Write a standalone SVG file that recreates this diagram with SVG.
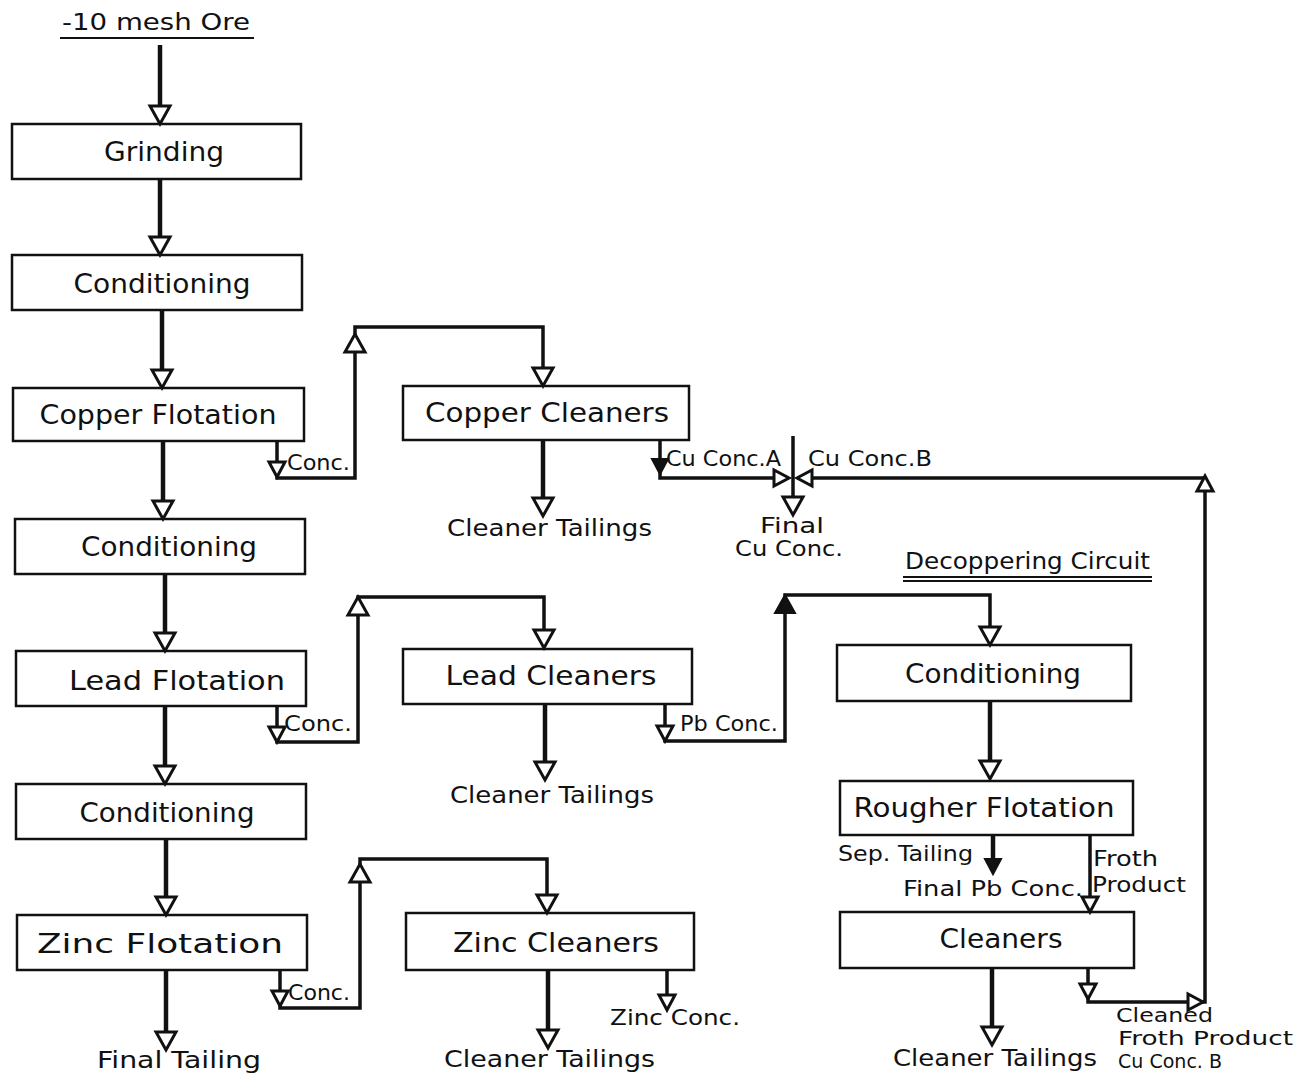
<svg xmlns="http://www.w3.org/2000/svg" xmlns:xlink="http://www.w3.org/1999/xlink" width="1296" height="1075" viewBox="0 0 1296 1075">
<style>
.box{fill:#fff;stroke:#111;stroke-width:2.5}
.lbl{font-family:"DejaVu Sans","Liberation Sans",Arial,sans-serif;font-size:27px;fill:#111;text-anchor:middle}
.sm{font-family:"DejaVu Sans","Liberation Sans",Arial,sans-serif;font-size:21px;fill:#111}
.xs{font-family:"DejaVu Sans","Liberation Sans",Arial,sans-serif;font-size:19px;fill:#111}
.md{font-family:"DejaVu Sans","Liberation Sans",Arial,sans-serif;font-size:23px;fill:#111}
.ln{fill:none;stroke:#111;stroke-width:4.5;stroke-linejoin:miter}
.thin{fill:none;stroke:#111;stroke-width:3.5}
.ah{fill:#fff;stroke:#111;stroke-width:3;stroke-linejoin:miter}
.ahs{fill:#111;stroke:#111;stroke-width:2}
</style>
<defs>
<path id="a" d="M-10,-18 L10,-18 L0,0 Z"/>
<path id="s" d="M-8,-15 L8,-15 L0,0 Z"/>
</defs>
<rect width="1296" height="1075" fill="#fff"/>

<g id="title">
<text class="md" x="62" y="30" textLength="188" lengthAdjust="spacingAndGlyphs">-10 mesh Ore</text>
<line x1="60" y1="38" x2="254" y2="38" stroke="#111" stroke-width="2"/>
</g>

<g id="grinding"><rect class="box" x="12" y="124" width="289" height="55"/><text class="lbl" x="164" y="161" textLength="120" lengthAdjust="spacingAndGlyphs">Grinding</text></g>
<g id="conditioning1"><rect class="box" x="12" y="255" width="290" height="55"/><text class="lbl" x="162" y="293" textLength="177" lengthAdjust="spacingAndGlyphs">Conditioning</text></g>
<g id="copper-flotation"><rect class="box" x="13" y="388" width="291" height="53"/><text class="lbl" x="158" y="424" textLength="237" lengthAdjust="spacingAndGlyphs">Copper Flotation</text></g>
<g id="conditioning2"><rect class="box" x="15" y="519" width="290" height="55"/><text class="lbl" x="169" y="556" textLength="176" lengthAdjust="spacingAndGlyphs">Conditioning</text></g>
<g id="lead-flotation"><rect class="box" x="16" y="651" width="290" height="55"/><text class="lbl" x="177" y="690" textLength="216" lengthAdjust="spacingAndGlyphs">Lead Flotation</text></g>
<g id="conditioning3"><rect class="box" x="16" y="784" width="290" height="55"/><text class="lbl" x="167" y="822" textLength="175" lengthAdjust="spacingAndGlyphs">Conditioning</text></g>
<g id="zinc-flotation"><rect class="box" x="17" y="915" width="290" height="55"/><text class="lbl" x="160" y="953" textLength="246" lengthAdjust="spacingAndGlyphs">Zinc Flotation</text></g>

<g id="copper-cleaners"><rect class="box" x="403" y="386" width="286" height="54"/><text class="lbl" x="547" y="422" textLength="244" lengthAdjust="spacingAndGlyphs">Copper Cleaners</text></g>
<g id="lead-cleaners"><rect class="box" x="403" y="649" width="289" height="55"/><text class="lbl" x="551" y="685" textLength="211" lengthAdjust="spacingAndGlyphs">Lead Cleaners</text></g>
<g id="zinc-cleaners"><rect class="box" x="406" y="913" width="288" height="57"/><text class="lbl" x="556" y="952" textLength="206" lengthAdjust="spacingAndGlyphs">Zinc Cleaners</text></g>

<g id="decoppering-label">
<text class="md" x="905" y="569" textLength="245" lengthAdjust="spacingAndGlyphs">Decoppering Circuit</text>
<line x1="903" y1="577" x2="1152" y2="577" stroke="#111" stroke-width="2"/>
<line x1="903" y1="581" x2="1152" y2="581" stroke="#111" stroke-width="2"/>
</g>
<g id="conditioning4"><rect class="box" x="837" y="645" width="294" height="56"/><text class="lbl" x="993" y="683" textLength="176" lengthAdjust="spacingAndGlyphs">Conditioning</text></g>
<g id="rougher-flotation"><rect class="box" x="840" y="781" width="293" height="54"/><text class="lbl" x="984" y="817" textLength="261" lengthAdjust="spacingAndGlyphs">Rougher Flotation</text></g>
<g id="cleaners"><rect class="box" x="840" y="912" width="294" height="56"/><text class="lbl" x="1001" y="948" textLength="123" lengthAdjust="spacingAndGlyphs">Cleaners</text></g>

<g id="labels">
<text class="sm" x="287" y="470" textLength="63" lengthAdjust="spacingAndGlyphs">Conc.</text>
<text class="sm" x="284" y="731" textLength="68" lengthAdjust="spacingAndGlyphs">Conc.</text>
<text class="sm" x="288" y="1000" textLength="62" lengthAdjust="spacingAndGlyphs">Conc.</text>
<text class="sm" x="666" y="466" textLength="115" lengthAdjust="spacingAndGlyphs">Cu Conc.A</text>
<text class="sm" x="808" y="466" textLength="124" lengthAdjust="spacingAndGlyphs">Cu Conc.B</text>
<text class="sm" x="760" y="533" textLength="64" lengthAdjust="spacingAndGlyphs">Final</text>
<text class="sm" x="735" y="556" textLength="108" lengthAdjust="spacingAndGlyphs">Cu Conc.</text>
<text class="md" x="447" y="536" textLength="205" lengthAdjust="spacingAndGlyphs">Cleaner Tailings</text>
<text class="md" x="450" y="803" textLength="204" lengthAdjust="spacingAndGlyphs">Cleaner Tailings</text>
<text class="md" x="444" y="1067" textLength="211" lengthAdjust="spacingAndGlyphs">Cleaner Tailings</text>
<text class="md" x="893" y="1066" textLength="204" lengthAdjust="spacingAndGlyphs">Cleaner Tailings</text>
<text class="md" x="97" y="1068" textLength="164" lengthAdjust="spacingAndGlyphs">Final Tailing</text>
<text class="sm" x="680" y="731" textLength="98" lengthAdjust="spacingAndGlyphs">Pb Conc.</text>
<text class="sm" x="838" y="861" textLength="135" lengthAdjust="spacingAndGlyphs">Sep. Tailing</text>
<text class="sm" x="903" y="896" textLength="180" lengthAdjust="spacingAndGlyphs">Final Pb Conc.</text>
<text class="sm" x="1093" y="866" textLength="65" lengthAdjust="spacingAndGlyphs">Froth</text>
<text class="sm" x="1092" y="892" textLength="94" lengthAdjust="spacingAndGlyphs">Product</text>
<text class="sm" x="610" y="1025" textLength="130" lengthAdjust="spacingAndGlyphs">Zinc Conc.</text>
<text class="xs" x="1116" y="1022" textLength="97" lengthAdjust="spacingAndGlyphs">Cleaned</text>
<text class="xs" x="1118" y="1045" textLength="175" lengthAdjust="spacingAndGlyphs">Froth Product</text>
<text class="xs" x="1118" y="1068" textLength="104" lengthAdjust="spacingAndGlyphs">Cu Conc. B</text>
</g>

<g id="connectors">
<path class="ln" d="M160,45 V110"/>
<path class="ln" d="M160,179 V240"/>
<path class="ln" d="M162,310 V372"/>
<path class="ln" d="M163,441 V503"/>
<path class="ln" d="M165,574 V635"/>
<path class="ln" d="M165,706 V768"/>
<path class="ln" d="M166,839 V900"/>
<path class="ln" d="M166,970 V1034"/>
<path class="thin" d="M277,441 V478 H355 V327 H543 V372"/>
<path class="ln" d="M543,440 V500"/>
<path class="thin" d="M660,440 V478 H780"/>
<path class="thin" d="M793,436 V500"/>
<path class="thin" d="M806,478 H1205 V1002 H1088 V968"/>
<path class="thin" d="M277,706 V742 H358 V597 H544 V634"/>
<path class="ln" d="M545,704 V765"/>
<path class="thin" d="M665,704 V741 H785 V595 H990 V630"/>
<path class="ln" d="M990,701 V764"/>
<path class="ln" d="M993,835 V860"/>
<path class="thin" d="M1090,835 V898"/>
<path class="ln" d="M992,968 V1030"/>
<path class="thin" d="M280,970 V1008 H360 V859 H547 V900"/>
<path class="ln" d="M548,970 V1033"/>
<path class="thin" d="M667,970 V996"/>

<use href="#a" class="ah" transform="translate(160,124)"/>
<use href="#a" class="ah" transform="translate(160,255)"/>
<use href="#a" class="ah" transform="translate(162,388)"/>
<use href="#a" class="ah" transform="translate(163,519)"/>
<use href="#a" class="ah" transform="translate(165,651)"/>
<use href="#a" class="ah" transform="translate(165,784)"/>
<use href="#a" class="ah" transform="translate(166,915)"/>
<use href="#a" class="ah" transform="translate(166,1050)"/>
<use href="#s" class="ah" transform="translate(277,477)"/>
<use href="#a" class="ah" transform="translate(355,334) rotate(180)"/>
<use href="#a" class="ah" transform="translate(543,386)"/>
<use href="#a" class="ah" transform="translate(543,516)"/>
<use href="#s" class="ahs" transform="translate(660,474)"/>
<use href="#s" class="ah" transform="translate(789,478) rotate(-90)"/>
<use href="#s" class="ah" transform="translate(797,478) rotate(90)"/>
<use href="#a" class="ah" transform="translate(793,515)"/>
<use href="#s" class="ah" transform="translate(1205,476) rotate(180)"/>
<use href="#s" class="ah" transform="translate(277,742)"/>
<use href="#a" class="ah" transform="translate(358,597) rotate(180)"/>
<use href="#a" class="ah" transform="translate(544,648)"/>
<use href="#a" class="ah" transform="translate(545,780)"/>
<use href="#s" class="ah" transform="translate(665,741)"/>
<use href="#a" class="ahs" transform="translate(785,595) rotate(180)"/>
<use href="#a" class="ah" transform="translate(990,645)"/>
<use href="#a" class="ah" transform="translate(990,779)"/>
<use href="#s" class="ahs" transform="translate(993,874)"/>
<use href="#s" class="ah" transform="translate(1090,912)"/>
<use href="#a" class="ah" transform="translate(992,1045)"/>
<use href="#s" class="ah" transform="translate(1088,999)"/>
<use href="#s" class="ah" transform="translate(1203,1002) rotate(-90)"/>
<use href="#s" class="ah" transform="translate(280,1006)"/>
<use href="#a" class="ah" transform="translate(360,864) rotate(180)"/>
<use href="#a" class="ah" transform="translate(547,913)"/>
<use href="#a" class="ah" transform="translate(548,1048)"/>
<use href="#s" class="ah" transform="translate(667,1010)"/>
</g>
</svg>
